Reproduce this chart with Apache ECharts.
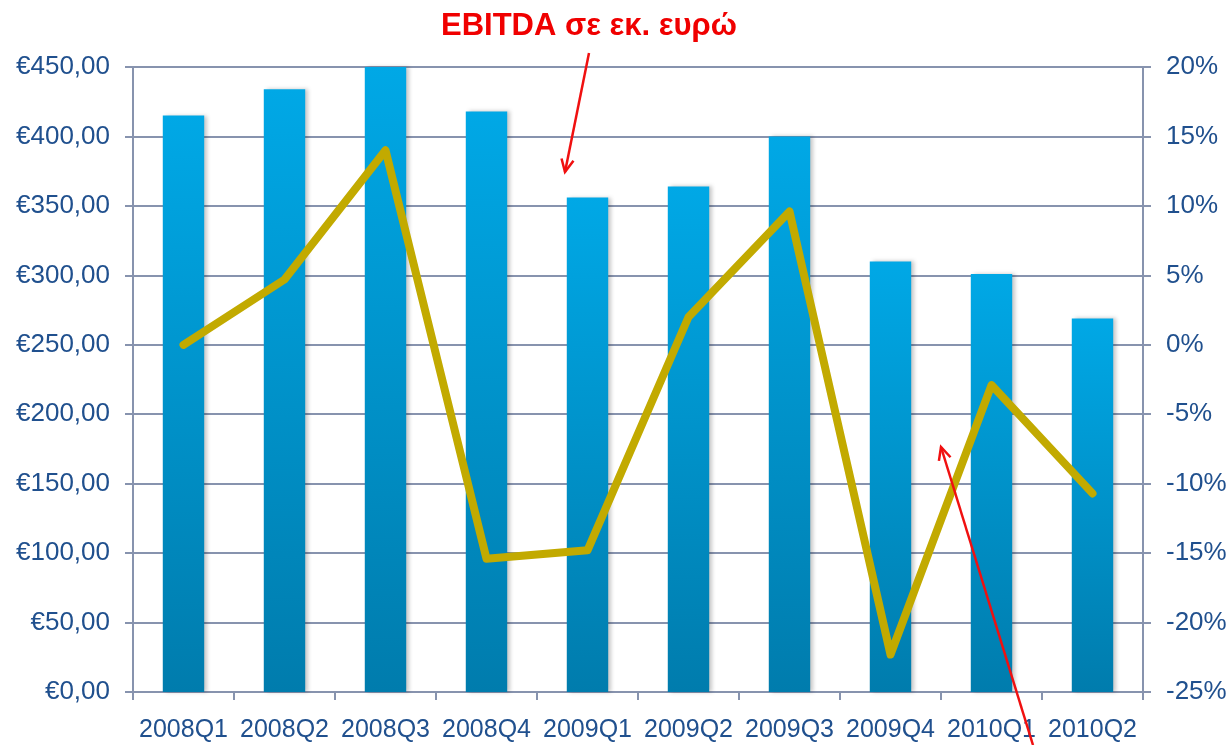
<!DOCTYPE html>
<html>
<head>
<meta charset="utf-8">
<script src="https://cdn.jsdelivr.net/npm/echarts@6/dist/echarts.min.js"></script>
<style>
  html, body { margin: 0; padding: 0; background: #fff; }
  #main { width: 1231px; height: 745px; }
</style>
</head>
<body>
<div id="main"></div>
<script>
const quarters = ['2008Q1', '2008Q2', '2008Q3', '2008Q4', '2009Q1', '2009Q2', '2009Q3', '2009Q4', '2010Q1', '2010Q2']
// EBITDA σε εκ. ευρώ
const ebitda = [415, 434, 450, 418, 356, 364, 400, 310, 301, 269]
// μεταβολή %
const change = [0.0, 4.7, 14.0, -15.4, -14.8, 2.0, 9.6, -22.3, -2.9, -10.7]

const axisColor = '#8793AE'
const labelColor = '#20508E'
const fontFamily = '"Liberation Sans", Arial, sans-serif'

const myChart = echarts.init(document.getElementById('main'))

// βέλος: γραμμή + ανοιχτή αιχμή
function arrow (x1, y1, x2, y2) {
  const a = Math.atan2(y2 - y1, x2 - x1)
  const len = 14, spread = 0.45
  const h1 = [x2 - len * Math.cos(a - spread), y2 - len * Math.sin(a - spread)]
  const h2 = [x2 - len * Math.cos(a + spread), y2 - len * Math.sin(a + spread)]
  const style = { stroke: '#F01010', lineWidth: 2.5, fill: null }
  return [
    { type: 'polyline', shape: { points: [[x1, y1], [x2, y2]] }, style: style, z: 100 },
    { type: 'polyline', shape: { points: [h1, [x2, y2], h2] }, style: style, z: 100 }
  ]
}

myChart.setOption({
  animation: false,
  textStyle: { fontFamily: fontFamily },
  title: {
    text: 'EBITDA σε εκ. ευρώ',
    left: 436,
    top: 6,
    textStyle: { color: '#F00000', fontSize: 31, fontWeight: 'bold', fontFamily: fontFamily }
  },
  grid: { left: 133, right: 88, top: 67, bottom: 53, containLabel: false },
  xAxis: {
    type: 'category',
    data: quarters,
    axisLine: { lineStyle: { color: axisColor, width: 2 } },
    axisTick: { show: true, length: 8, lineStyle: { color: axisColor, width: 2 } },
    axisLabel: { color: labelColor, fontSize: 25, margin: 26, interval: 0 }
  },
  yAxis: [
    {
      type: 'value',
      min: 0,
      max: 450,
      interval: 50,
      axisLine: { show: true, lineStyle: { color: axisColor, width: 2 } },
      axisTick: { show: true, length: 8, lineStyle: { color: axisColor, width: 2 } },
      splitLine: { lineStyle: { color: axisColor, width: 2 } },
      axisLabel: {
        color: labelColor,
        fontSize: 26,
        margin: 23,
        formatter: v => '€' + v.toFixed(2).replace('.', ',')
      }
    },
    {
      type: 'value',
      min: -25,
      max: 20,
      interval: 5,
      position: 'right',
      axisLine: { show: true, lineStyle: { color: axisColor, width: 2 } },
      axisTick: { show: true, length: 8, lineStyle: { color: axisColor, width: 2 } },
      splitLine: { show: false },
      axisLabel: { color: labelColor, fontSize: 26, margin: 23, formatter: v => v + '%' }
    }
  ],
  series: [
    {
      name: 'EBITDA',
      type: 'bar',
      data: ebitda,
      barWidth: '41%',
      itemStyle: {
        color: new echarts.graphic.LinearGradient(0, 0, 0, 1, [
          { offset: 0, color: '#00A8E6' },
          { offset: 1, color: '#007CAD' }
        ]),
        shadowColor: 'rgba(0,0,0,0.22)',
        shadowBlur: 4,
        shadowOffsetX: 3
      },
      z: 2
    },
    {
      name: 'μεταβολή',
      type: 'line',
      yAxisIndex: 1,
      data: change,
      symbol: 'none',
      lineStyle: { color: '#C2AA00', width: 8, cap: 'round', join: 'round' },
      z: 3
    }
  ],
  graphic: [
    ...arrow(589, 53, 565, 172),
    ...arrow(1033, 745, 941, 447)
  ]
})
</script>
</body>
</html>
